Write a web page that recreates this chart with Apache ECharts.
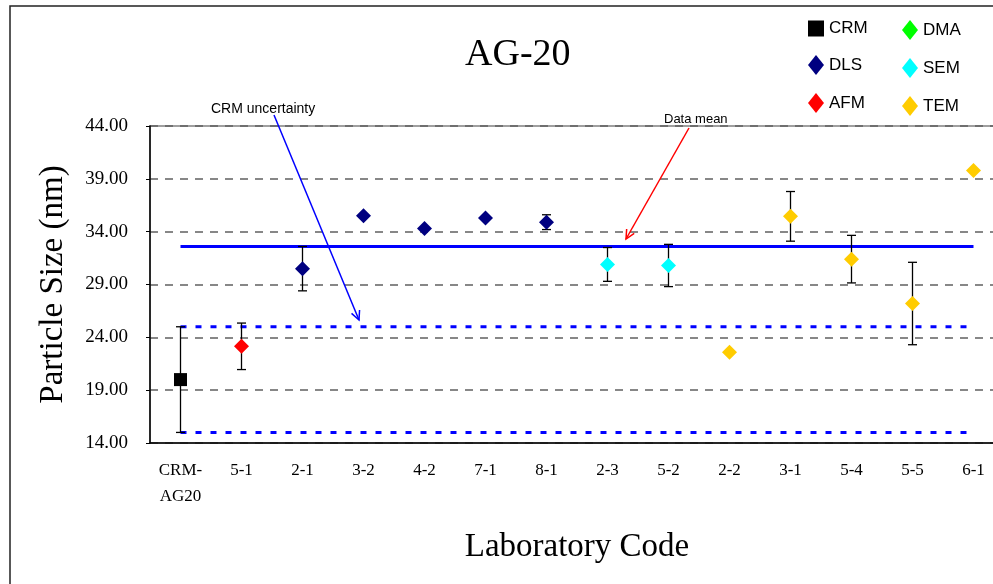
<!DOCTYPE html>
<html>
<head>
<meta charset="utf-8">
<script src="https://cdn.jsdelivr.net/npm/echarts@6/dist/echarts.min.js"></script>
<style>html,body{margin:0;padding:0;background:#fff;}#c{width:993px;height:584px;}</style>
</head>
<body>
<div id="c"></div>
<script>
// ---- data ----
const categories = ['CRM-\nAG20','5-1','2-1','3-2','4-2','7-1','8-1','2-3','5-2','2-2','3-1','5-4','5-5','6-1'];
const methods    = ['CRM','AFM','DLS','DLS','DLS','DLS','DLS','SEM','SEM','TEM','TEM','TEM','TEM','TEM'];
const sizes      = [20.0, 23.15, 30.5, 35.5, 34.3, 35.3, 34.9, 30.9, 30.8, 22.6, 35.45, 31.4, 27.2, 39.8];
const uncertainties = [5.0, 2.2, 2.1, null, null, null, 0.7, 1.6, 2.0, null, 2.35, 2.25, 3.9, null];
const dataMean = 32.6;
const crmBandLow = 15.0;
const crmBandHigh = 25.0;
const methodList = ['CRM','DMA','DLS','SEM','AFM','TEM'];
const yTicks = { min: 14, max: 44, step: 5 };

// ---- styles ----
const methodStyle = {
  CRM: { color: '#000000', symbol: 'rect', size: 13 },
  DMA: { color: '#00FF00', symbol: 'diamond', size: 15 },
  DLS: { color: '#000080', symbol: 'diamond', size: 15 },
  SEM: { color: '#00FFFF', symbol: 'diamond', size: 15 },
  AFM: { color: '#FF0000', symbol: 'diamond', size: 15 },
  TEM: { color: '#FFCC00', symbol: 'diamond', size: 15 }
};
const serif = 'Liberation Serif';
const sans = 'Liberation Sans';

const chart = echarts.init(document.getElementById('c'), null, { renderer: 'canvas' });

const scatterSeries = methodList.map(m => ({
  name: m,
  type: 'scatter',
  symbol: methodStyle[m].symbol,
  symbolSize: methodStyle[m].size,
  itemStyle: { color: methodStyle[m].color, opacity: 1 },
  z: 5,
  data: sizes.map((v, i) => methods[i] === m ? [i, v] : null).filter(d => d)
}));

const errData = [];
sizes.forEach((v, i) => {
  if (uncertainties[i] != null) errData.push([i, v - uncertainties[i], v + uncertainties[i]]);
});

function arrowGraphic(x1, y1, x2, y2, color) {
  const ang = Math.atan2(y2 - y1, x2 - x1);
  const L = 10, a = 0.45;
  const hx1 = x2 - L * Math.cos(ang - a), hy1 = y2 - L * Math.sin(ang - a);
  const hx2 = x2 - L * Math.cos(ang + a), hy2 = y2 - L * Math.sin(ang + a);
  return [
    { type: 'line', shape: { x1, y1, x2, y2 }, style: { stroke: color, lineWidth: 1.5 }, z: 100 },
    { type: 'polyline', shape: { points: [[hx1, hy1], [x2, y2], [hx2, hy2]] }, style: { stroke: color, lineWidth: 1.5, fill: null }, z: 100 }
  ];
}

const legendText = { fontFamily: sans, fontSize: 17, color: '#000' };

const option = {
  animation: false,
  backgroundColor: '#ffffff',
  title: {
    text: 'AG-20', left: 460, top: 31,
    textStyle: { fontFamily: serif, fontSize: 38, fontWeight: 'normal', color: '#000' }
  },
  legend: [
    {
      left: 803, top: 15, orient: 'vertical', itemWidth: 16, itemHeight: 20, itemGap: 18,
      selectedMode: false,
      data: [{ name: 'CRM', icon: 'path://M0,0L10,0L10,10L0,10Z' }, { name: 'DLS', icon: 'diamond' }, { name: 'AFM', icon: 'diamond' }],
      textStyle: legendText
    },
    {
      left: 897, top: 15, orient: 'vertical', itemWidth: 16, itemHeight: 20, itemGap: 18,
      selectedMode: false,
      data: [{ name: 'DMA', icon: 'diamond' }, { name: 'SEM', icon: 'diamond' }, { name: 'TEM', icon: 'diamond' }],
      textStyle: legendText
    }
  ],
  grid: {
    left: 150, top: 126, width: 854, height: 317,
    outerBoundsMode: 'none', containLabel: false,
    show: true, borderColor: '#808080', borderWidth: 1.5, backgroundColor: 'transparent'
  },
  xAxis: {
    type: 'category', data: categories, boundaryGap: true,
    axisLine: { lineStyle: { color: '#000', width: 1.5 } },
    axisTick: { inside: true, length: 6, lineStyle: { color: '#000', width: 1 } },
    axisLabel: { interval: 0, fontFamily: serif, fontSize: 17, color: '#000', margin: 15, lineHeight: 26 },
    splitLine: { show: false },
    name: 'Laboratory Code', nameLocation: 'middle', nameGap: 88,
    nameTextStyle: { fontFamily: serif, fontSize: 33, color: '#000' }
  },
  yAxis: {
    type: 'value', min: yTicks.min, max: yTicks.max, interval: yTicks.step,
    axisLine: { show: true, lineStyle: { color: '#000', width: 1.5 } },
    axisTick: { show: true, length: 4, lineStyle: { color: '#000', width: 1 } },
    axisLabel: { formatter: v => v.toFixed(2), fontFamily: serif, fontSize: 19, color: '#000', margin: 22 },
    splitLine: { show: true, lineStyle: { color: '#606060', width: 1.5, type: [8, 7] } },
    name: 'Particle Size (nm)', nameLocation: 'middle', nameGap: 80, nameRotate: 90,
    nameTextStyle: { fontFamily: serif, fontSize: 33, color: '#000' }
  },
  series: [
    {
      name: 'Data mean', type: 'line', symbol: 'none', z: 3,
      lineStyle: { color: '#0000FF', width: 3 },
      data: categories.map(() => dataMean)
    },
    {
      name: 'CRM upper', type: 'line', symbol: 'none', z: 3,
      lineStyle: { color: '#0000FF', width: 3, type: [6, 9] },
      data: categories.map(() => crmBandHigh)
    },
    {
      name: 'CRM lower', type: 'line', symbol: 'none', z: 3,
      lineStyle: { color: '#0000FF', width: 3, type: [6, 9] },
      data: categories.map(() => crmBandLow)
    },
    {
      name: 'error', type: 'custom', z: 4,
      encode: { x: 0, y: [1, 2] },
      data: errData,
      renderItem: function (params, api) {
        const x = api.value(0);
        const top = api.coord([x, api.value(2)]);
        const bot = api.coord([x, api.value(1)]);
        const w = 4.5;
        const st = { stroke: '#000', lineWidth: 1.3 };
        return {
          type: 'group',
          children: [
            { type: 'line', shape: { x1: top[0], y1: top[1], x2: bot[0], y2: bot[1] }, style: st },
            { type: 'line', shape: { x1: top[0] - w, y1: top[1], x2: top[0] + w, y2: top[1] }, style: st },
            { type: 'line', shape: { x1: bot[0] - w, y1: bot[1], x2: bot[0] + w, y2: bot[1] }, style: st }
          ]
        };
      }
    }
  ].concat(scatterSeries),
  graphic: [
    { type: 'rect', shape: { x: 10, y: 6, width: 1200, height: 800 }, style: { fill: 'transparent', stroke: '#222', lineWidth: 1.5 }, z: 0, silent: true },
    { type: 'text', x: 211, y: 109, style: { text: 'CRM uncertainty', fontFamily: sans, fontSize: 14, fill: '#000', verticalAlign: 'middle' }, z: 100 },
    { type: 'text', x: 664, y: 119, style: { text: 'Data mean', fontFamily: sans, fontSize: 13, fill: '#000', verticalAlign: 'middle' }, z: 100 }
  ].concat(arrowGraphic(274, 115, 359, 320, '#0000FF'), arrowGraphic(689, 128, 626, 239, '#FF0000'))
};

chart.setOption(option);
</script>
</body>
</html>
